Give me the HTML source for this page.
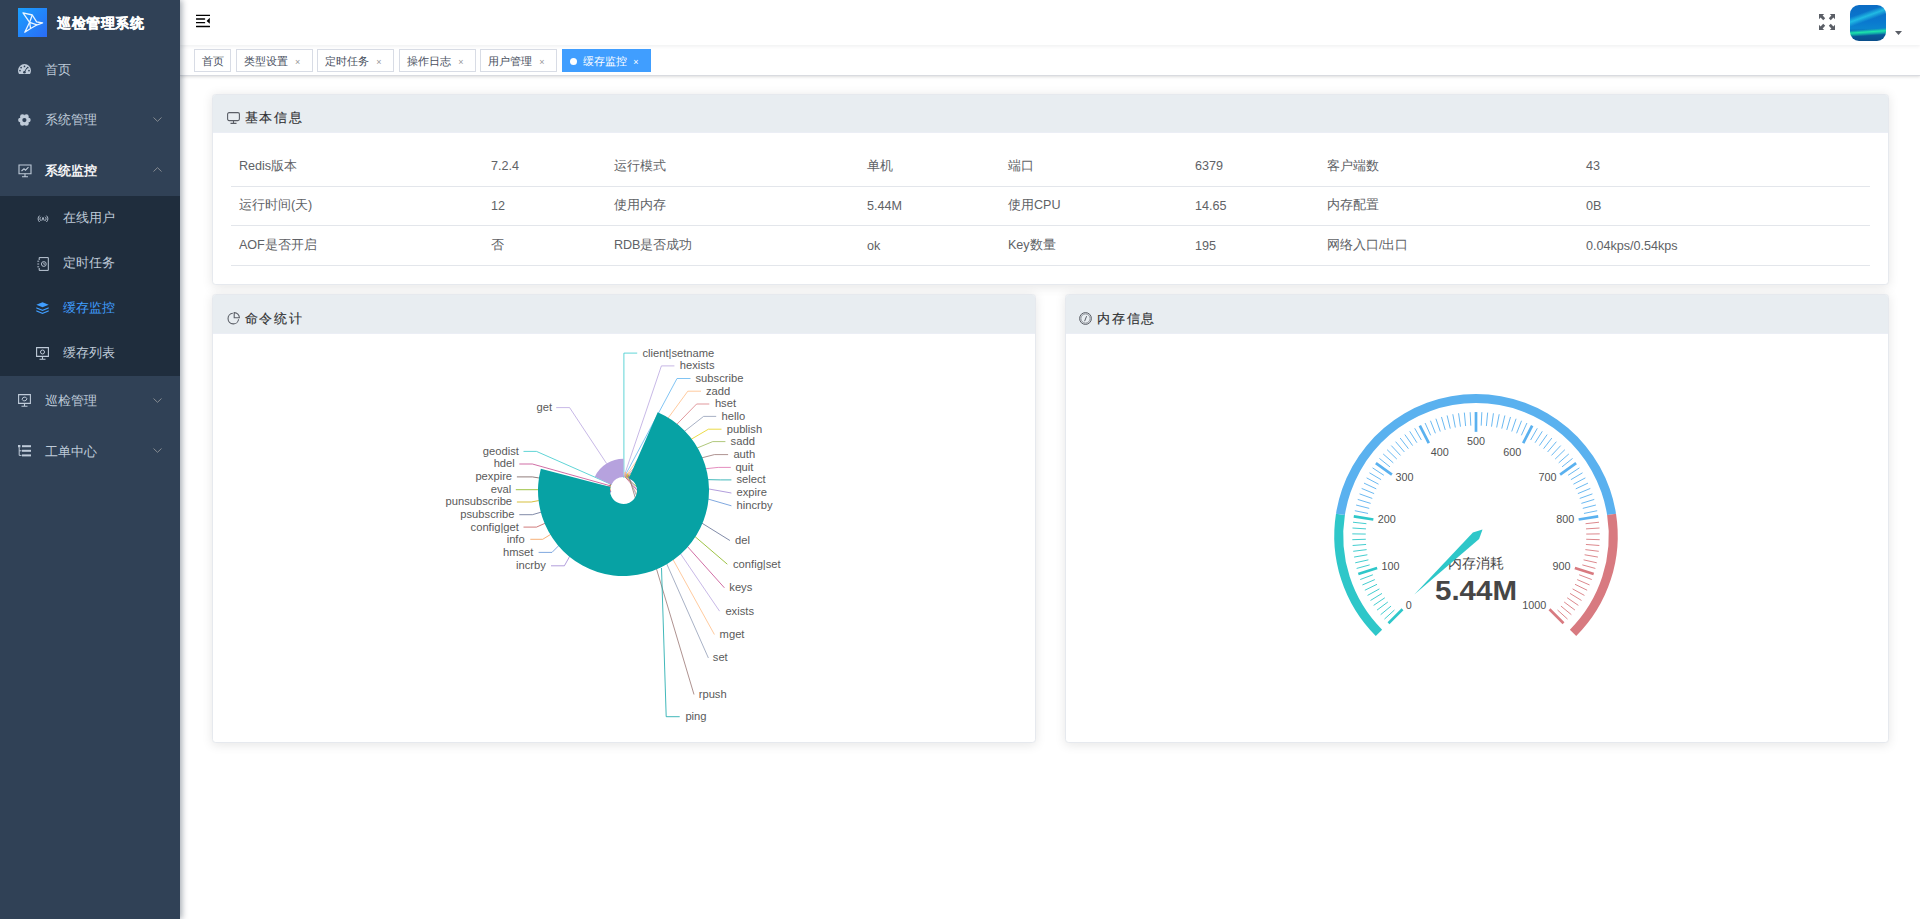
<!DOCTYPE html>
<html><head><meta charset="utf-8"><title>缓存监控</title>
<style>
*{box-sizing:border-box;margin:0;padding:0}
html,body{width:1920px;height:919px;overflow:hidden;background:#fff;font-family:"Liberation Sans",sans-serif;}
.abs{position:absolute}
#sidebar{position:absolute;left:0;top:0;width:180px;height:919px;background:#304156;box-shadow:2px 0 6px rgba(0,21,41,.35);z-index:5}
.logo{position:absolute;left:18px;top:8px;width:29px;height:29px}
.title{position:absolute;left:57.3px;top:12.9px;line-height:20px;font-size:13.9px;letter-spacing:0.5px;font-weight:bold;-webkit-text-stroke:0.35px #fff;color:#fff;white-space:nowrap}
.mi{position:absolute;left:0;width:180px;height:50.4px;line-height:50.4px;font-size:12.6px;color:#bfcbd9;white-space:nowrap}
.mi .t{position:absolute;left:45px;top:0}
.mi svg{position:absolute}
.sub{position:absolute;left:0;top:196.2px;width:180px;height:180px;background:#1f2d3d}
.si{position:absolute;left:0;width:180px;height:45px;line-height:45px;font-size:12.6px;color:#bfcbd9;white-space:nowrap}
.si .t{position:absolute;left:63px;top:0}
.si svg{position:absolute}
.chev{position:absolute;left:153px;width:9px;height:5px}
#navbar{position:absolute;left:180px;top:0;width:1740px;height:45px;background:#fff;box-shadow:0 1px 4px rgba(0,21,41,.08);z-index:2}
#tags{position:absolute;left:180px;top:45px;width:1740px;height:30.6px;background:#fff;border-bottom:1px solid #d9dbe0;box-shadow:0 1px 3px 0 rgba(0,0,0,.12),0 0 3px 0 rgba(0,0,0,.04);z-index:1}
.tag{position:absolute;top:4px;height:23px;line-height:22.5px;border:1px solid #d8dce5;color:#495060;background:#fff;font-size:10.8px;white-space:nowrap}
.tag .x{position:absolute;font-size:9px;color:#999;top:0.5px}
.tag.act{background:#409eff;border-color:#409eff;color:#fff}
.card{position:absolute;background:#fff;border:1px solid #e6e9ee;border-radius:3.6px;box-shadow:0 1.8px 10.8px 0 rgba(0,0,0,.1);overflow:hidden}
.card .hd{position:absolute;left:0;top:0;width:100%;height:38.3px;background:#e8edf1;border-bottom:1px solid #ebeef5}
.card .hd .t{position:absolute;left:31.5px;top:13.3px;line-height:20px;font-size:13.2px;letter-spacing:1.6px;color:#303133;-webkit-text-stroke:0.15px #303133;white-space:nowrap}
.card .hd svg{position:absolute}
table{position:absolute;border-collapse:collapse;table-layout:fixed}
td{height:39.6px;border-bottom:1px solid #e3e6eb;font-size:12.6px;color:#606266;padding:0 0 0 8px;white-space:nowrap;vertical-align:middle}
svg text{font-family:"Liberation Sans",sans-serif}
</style></head>
<body>
<div id="sidebar">
  <svg class="logo" viewBox="0 0 29 29">
    <defs><linearGradient id="lg" x1="0" y1="0" x2="1" y2="1"><stop offset="0" stop-color="#1aa0ff"/><stop offset="1" stop-color="#2a6bf5"/></linearGradient></defs>
    <rect width="29" height="29" fill="url(#lg)"/>
    <g fill="none" stroke="#eaf6ff" stroke-width="1.3" stroke-linejoin="round">
      <path d="M5 4.8L14.3 7L18.6 13.9L24.6 15L19.2 16.8L12.6 20.5L6.8 24.2L11.6 14.3Z"/>
      <path d="M14.3 7L11.6 14.3L19 16.8M11.6 14.3L12.6 20.5"/>
    </g>
  </svg>
  <div class="title">巡检管理系统</div>

  <div class="mi" style="top:45px"><svg style="left:18px;top:18.9px" width="13" height="10.6" viewBox="0 0 13 10.6"><defs><clipPath id="dc"><rect width="13" height="10.6"/></clipPath></defs><circle cx="6.5" cy="6.5" r="6.5" fill="#bfcbd9" clip-path="url(#dc)"/><g fill="#304156"><circle cx="3.1" cy="3.6" r="0.85"/><circle cx="6.5" cy="2.4" r="0.85"/><circle cx="9.7" cy="3.6" r="0.85"/><circle cx="2.0" cy="6.6" r="0.85"/><circle cx="11" cy="6.6" r="0.85"/><circle cx="6.4" cy="8.3" r="1.3"/></g><path d="M6.3 8.3L8.9 3.8" stroke="#304156" stroke-width="1"/></svg><span class="t">首页</span></div>
  <div class="mi" style="top:95.4px"><svg style="left:17.8px;top:18.5px" width="13" height="12.4" viewBox="0 0 13 12.4"><g fill="#bfcbd9"><circle cx="6.4" cy="6.1" r="4.6"/><circle cx="10.30" cy="6.10" r="2.4"/><circle cx="8.35" cy="9.48" r="2.4"/><circle cx="4.45" cy="9.48" r="2.4"/><circle cx="2.50" cy="6.10" r="2.4"/><circle cx="4.45" cy="2.72" r="2.4"/><circle cx="8.35" cy="2.72" r="2.4"/></g><circle cx="6.4" cy="6.1" r="2.1" fill="#304156"/></svg><span class="t">系统管理</span>
    <svg class="chev" style="top:22px" viewBox="0 0 9 5"><path d="M0.5 0.5L4.5 4.3L8.5 0.5" fill="none" stroke="#909399" stroke-width="0.9"/></svg></div>
  <div class="mi" style="top:145.8px;color:#f4f4f5"><svg style="left:17.5px;top:18px" width="14" height="14" viewBox="0 0 14 14"><path d="M1 1H13V9.8H1Z" fill="none" stroke="#bfcbd9" stroke-width="1.1"/><path d="M7 9.8V12.5M4 12.8H10" stroke="#bfcbd9" stroke-width="1.1"/><path d="M3.5 7L6 4.8L7.5 6.2L10.5 3.2" fill="none" stroke="#bfcbd9" stroke-width="1.1"/></svg><span class="t" style="font-weight:bold">系统监控</span>
    <svg class="chev" style="top:21.5px" viewBox="0 0 9 5"><path d="M0.5 4.5L4.5 0.7L8.5 4.5" fill="none" stroke="#909399" stroke-width="0.9"/></svg></div>

  <div class="sub">
    <div class="si" style="top:0"><svg style="left:36.5px;top:18.5px" width="12" height="7.6" viewBox="0 0 12 7.6"><g fill="none" stroke="#bfcbd9" stroke-width="0.9"><path d="M2.6 0.6A4.2 4.2 0 0 0 2.6 7M9.4 0.6A4.2 4.2 0 0 1 9.4 7M4 1.8A2.4 2.4 0 0 0 4 5.8M8 1.8A2.4 2.4 0 0 1 8 5.8"/><path d="M4.8 5.6L6 2.4L7.2 5.6"/></g></svg><span class="t">在线用户</span></div>
    <div class="si" style="top:45px"><svg style="left:36.8px;top:15.7px" width="12" height="14" viewBox="0 0 12 14"><path d="M2.2 0.6H11.3V13.4H2.2V11M2.2 3V0.6" fill="none" stroke="#bfcbd9" stroke-width="1"/><path d="M0.3 4.2H2.2M0.3 7H2.2M0.3 9.8H2.2" stroke="#bfcbd9" stroke-width="0.9"/><circle cx="6.8" cy="7" r="2.4" fill="none" stroke="#bfcbd9" stroke-width="0.9"/><path d="M6.8 5.6V7.2H8" fill="none" stroke="#bfcbd9" stroke-width="0.8"/></svg><span class="t">定时任务</span></div>
    <div class="si" style="top:90px;color:#409eff"><svg style="left:36px;top:16px" width="13" height="12" viewBox="0 0 13 12"><path d="M6.5 0.3L12.7 2.8L6.5 5.3L0.3 2.8Z" fill="#409eff"/><path d="M0.3 5.2L6.5 7.7L12.7 5.2V6.4L6.5 8.9L0.3 6.4Z" fill="#409eff"/><path d="M0.3 8.2L6.5 10.7L12.7 8.2V9.4L6.5 11.9L0.3 9.4Z" fill="#409eff"/></svg><span class="t">缓存监控</span></div>
    <div class="si" style="top:135px"><svg style="left:36px;top:16px" width="13" height="13" viewBox="0 0 13 13"><path d="M0.6 0.6H12.4V9.4H0.6Z" fill="none" stroke="#bfcbd9" stroke-width="1.1"/><path d="M6.5 9.4V11.8M3.5 12.3H9.5" stroke="#bfcbd9" stroke-width="1.1"/><circle cx="6.5" cy="5" r="2" fill="none" stroke="#bfcbd9" stroke-width="1"/></svg><span class="t">缓存列表</span></div>
  </div>

  <div class="mi" style="top:376.2px"><svg style="left:18px;top:17.5px" width="13" height="13" viewBox="0 0 13 13"><path d="M0.6 0.6H12.4V9.4H0.6Z" fill="none" stroke="#bfcbd9" stroke-width="1.1"/><path d="M6.5 9.4V11.8M3.5 12.3H9.5" stroke="#bfcbd9" stroke-width="1.1"/><path d="M4.2 5.5A2.4 2.4 0 0 1 8.8 4.5M8.8 4.5A2.4 2.4 0 0 1 4.2 5.5" fill="none" stroke="#bfcbd9" stroke-width="1"/></svg><span class="t">巡检管理</span>
    <svg class="chev" style="top:21.5px" viewBox="0 0 9 5"><path d="M0.5 0.5L4.5 4.3L8.5 0.5" fill="none" stroke="#909399" stroke-width="0.9"/></svg></div>
  <div class="mi" style="top:426.6px"><svg style="left:18px;top:18.5px" width="13" height="12" viewBox="0 0 13 12"><rect x="0" y="0" width="2.4" height="2.4" fill="#bfcbd9"/><rect x="4" y="0.2" width="9" height="2" fill="#bfcbd9"/><rect x="4" y="4.8" width="9" height="2" fill="#bfcbd9"/><rect x="4" y="9.4" width="9" height="2" fill="#bfcbd9"/><path d="M1.2 2.4V10.4H3.5M1.2 5.8H3.5" fill="none" stroke="#bfcbd9" stroke-width="1"/></svg><span class="t">工单中心</span>
    <svg class="chev" style="top:21.5px" viewBox="0 0 9 5"><path d="M0.5 0.5L4.5 4.3L8.5 0.5" fill="none" stroke="#909399" stroke-width="0.9"/></svg></div>
</div>

<div id="navbar">
  <svg class="abs" style="left:16px;top:13px" width="14" height="15" viewBox="0 0 14 15"><path d="M0.3 2.4H13.7M0.3 6H8.6M0.3 9.7H8.6M0.3 13.5H13.7" stroke="#000" stroke-width="1.3" stroke-linecap="round"/><path d="M13.8 4.8L10.6 7.9L13.8 10.8Z" fill="#000"/></svg>
  <svg class="abs" style="left:1639px;top:14px" width="16" height="16" viewBox="0 0 16 16" fill="#5a5e66"><path d="M0 0H5.2L3.6 1.6L6.2 4.2L4.2 6.2L1.6 3.6L0 5.2Z"/><path d="M16 0H10.8L12.4 1.6L9.8 4.2L11.8 6.2L14.4 3.6L16 5.2Z"/><path d="M0 16H5.2L3.6 14.4L6.2 11.8L4.2 9.8L1.6 12.4L0 10.8Z"/><path d="M16 16H10.8L12.4 14.4L9.8 11.8L11.8 9.8L14.4 12.4L16 10.8Z"/></svg>
  <div class="abs" style="left:1670px;top:4.7px;width:36px;height:36px;border-radius:9px;overflow:hidden;background:linear-gradient(176deg,rgba(0,0,0,0) 66%,rgba(30,235,170,.95) 73%,rgba(20,200,170,.7) 78%,rgba(10,80,140,.0) 83%),linear-gradient(160deg,rgba(0,0,0,0) 25%,rgba(40,210,235,.75) 35%,rgba(0,0,0,0) 45%),linear-gradient(180deg,#0b6cc4 0%,#0a78cf 45%,#0b84cf 65%,#0a5a9c 82%,#0a4e8a 100%)"></div>
  <svg class="abs" style="left:1715px;top:30.5px" width="7" height="4" viewBox="0 0 7 4"><path d="M0 0H7L3.5 4Z" fill="#5a5e66"/></svg>
</div>

<div id="tags">
  <div class="tag" style="left:14px;width:37px;padding-left:6.5px">首页</div>
  <div class="tag" style="left:56px;width:77px;padding-left:6.5px">类型设置<span class="x" style="left:58px">×</span></div>
  <div class="tag" style="left:137.2px;width:76.5px;padding-left:6.5px">定时任务<span class="x" style="left:58px">×</span></div>
  <div class="tag" style="left:219.3px;width:76.5px;padding-left:6.5px">操作日志<span class="x" style="left:58px">×</span></div>
  <div class="tag" style="left:300.3px;width:76.5px;padding-left:6.5px">用户管理<span class="x" style="left:58px">×</span></div>
  <div class="tag act" style="left:382.2px;width:88.6px;padding-left:20px"><span class="abs" style="left:7px;top:7.8px;width:7px;height:7px;border-radius:50%;background:#fff"></span>缓存监控<span class="x" style="left:70px;color:#fff">×</span></div>
</div>

<!-- basic info card -->
<div class="card" style="left:212.4px;top:94px;width:1676.5px;height:190.5px">
  <div class="hd"><svg style="left:14px;top:17px" width="13" height="12" viewBox="0 0 13 12"><rect x="0.6" y="0.6" width="11.8" height="8" rx="1.5" fill="none" stroke="#5a5e66" stroke-width="1.1"/><path d="M6.5 8.6V11.2M3.5 11.4H9.5" stroke="#5a5e66" stroke-width="1.1"/></svg><span class="t">基本信息</span></div>
  <table style="left:17.5px;top:51.6px;width:1639px">
    <colgroup><col style="width:252px"><col style="width:123px"><col style="width:253px"><col style="width:141px"><col style="width:187px"><col style="width:132px"><col style="width:259px"><col style="width:292px"></colgroup>
    <tr><td>Redis版本</td><td>7.2.4</td><td>运行模式</td><td>单机</td><td>端口</td><td>6379</td><td>客户端数</td><td>43</td></tr>
    <tr><td>运行时间(天)</td><td>12</td><td>使用内存</td><td>5.44M</td><td>使用CPU</td><td>14.65</td><td>内存配置</td><td>0B</td></tr>
    <tr><td>AOF是否开启</td><td>否</td><td>RDB是否成功</td><td>ok</td><td>Key数量</td><td>195</td><td>网络入口/出口</td><td>0.04kps/0.54kps</td></tr>
  </table>
</div>

<!-- command stats card -->
<div class="card" style="left:212.4px;top:294.4px;width:824px;height:449px">
  <div class="hd"><svg style="left:14px;top:16.8px" width="13" height="13" viewBox="0 0 13 13"><path d="M5.8 1.3A5.3 5.3 0 1 0 11.6 7.2" fill="none" stroke="#5a5e66" stroke-width="1.1"/><path d="M7.2 0.6V5.8H12.4A5.3 5.3 0 0 0 7.2 0.6Z" fill="none" stroke="#5a5e66" stroke-width="1.1"/></svg><span class="t">命令统计</span></div>
</div>

<!-- memory card -->
<div class="card" style="left:1064.9px;top:294.4px;width:824px;height:449px">
  <div class="hd"><svg style="left:13.5px;top:17px" width="13" height="13" viewBox="0 0 13 13"><circle cx="6.5" cy="6.5" r="5.9" fill="none" stroke="#5a5e66" stroke-width="1"/><circle cx="6.5" cy="6.5" r="4.6" fill="none" stroke="#5a5e66" stroke-width="0.6"/><path d="M5.6 9.2L7.6 4.2" stroke="#5a5e66" stroke-width="1"/></svg><span class="t">内存信息</span></div>
</div>

<svg class="abs" style="left:0;top:0;z-index:3;pointer-events:none" width="1920" height="919" viewBox="0 0 1920 919">
<g fill="none" stroke-width="0.85" stroke-opacity="0.9">
<polyline points="623.9,478 623.9,353.1 637.2,353.1" stroke="#2ec7c9"/>
<polyline points="623.8,477 661.4,365.9 674.4,365.9" stroke="#b6a2de"/>
<polyline points="624.3,477 677,378.5 690.5,378.5" stroke="#5ab1ef"/>
<polyline points="625,477 687.8,391.2 701,391.2" stroke="#ffb980"/>
<polyline points="625.5,477 696.6,404 709.3,404" stroke="#d87a80"/>
<polyline points="626,477 703.6,416.4 716.2,416.4" stroke="#8d98b3"/>
<polyline points="626.5,477 708.4,429.2 721.5,429.2" stroke="#e5cf0d"/>
<polyline points="627,477 712.7,441.6 725.4,441.6" stroke="#97b552"/>
<polyline points="627.5,477 714.4,454.6 728.1,454.6" stroke="#95706d"/>
<polyline points="628,477 718.2,467.4 730.8,467.4" stroke="#dc69aa"/>
<polyline points="628.5,478 720.5,479.9 731.4,479.9" stroke="#07a2a4"/>
<polyline points="641.8,477 731.4,493" stroke="#9a7fd1"/>
<polyline points="632.1,477 731.4,505.8" stroke="#588dd5"/>
<polyline points="627.62,477 729.9,540.5" stroke="#59678c"/>
<polyline points="625.4,477 727.3,564.2" stroke="#7eb00a"/>
<polyline points="625.2,477 724.4,587.8" stroke="#c14089"/>
<polyline points="628.31,477 719.6,611.2" stroke="#b6a2de"/>
<polyline points="627.45,477 714.4,634.5" stroke="#ffb980"/>
<polyline points="628.32,477 708.4,658" stroke="#8d98b3"/>
<polyline points="629.06,477 694,694.5" stroke="#95706d"/>
<polyline points="661.5,568 666.2,716.7 679.7,716.7" stroke="#07a2a4"/>
<polyline points="606.6,463.5 569.6,407.6 556.2,407.6" stroke="#b6a2de"/>
<polyline points="611.5,484.5 536.5,451.4 523.5,451.4" stroke="#2ec7c9"/>
<polyline points="611,486 532.4,464 519.3,464" stroke="#c14089"/>
<polyline points="610.5,487 538.6,477.9 532.4,476.9 516.9,476.9" stroke="#6f5553"/>
<polyline points="610.5,488 538.6,489.7 515.8,489.7" stroke="#7eb00a"/>
<polyline points="610.5,489 538.6,500.6 531.3,502 516.9,502" stroke="#c9ab00"/>
<polyline points="610.5,490 541.7,512 532.4,514.7 519.3,514.7" stroke="#59678c"/>
<polyline points="611,490 544.8,523.4 536.5,527.1 523.5,527.1" stroke="#c05050"/>
<polyline points="611,491 550,534.8 542.7,539.3 530.3,539.3" stroke="#f5994e"/>
<polyline points="611,491 558.2,546.2 552,552.4 538.6,552.4" stroke="#588dd5"/>
<polyline points="611,491 569.6,556.5 564.4,565.8 551,565.8" stroke="#9a7fd1"/>
</g>
<path d="M657.73 412.15A85.5 85.5 0 1 1 540.84 468.66L610.45 487.05A13.5 13.5 0 1 0 628.9 478.13Z" fill="#07a2a4"/>
<path d="M594.85 476.71A31.8 31.8 0 0 1 623.5 458.7L623.5 477A13.5 13.5 0 0 0 611.34 484.65Z" fill="#b6a2de"/>
<path d="M623.5 475.5A15 15 0 0 1 623.81 475.5L623.78 477A13.5 13.5 0 0 0 623.5 477Z" fill="#2ec7c9"/>
<path d="M623.81 475.5A15 15 0 0 1 624.13 475.51L624.07 477.01A13.5 13.5 0 0 0 623.78 477Z" fill="#b6a2de"/>
<path d="M624.15 475.01A15.5 15.5 0 0 1 624.47 475.03L624.35 477.03A13.5 13.5 0 0 0 624.07 477.01Z" fill="#5ab1ef"/>
<path d="M624.66 472.04A18.5 18.5 0 0 1 626.07 472.18L625.38 477.13A13.5 13.5 0 0 0 624.35 477.03Z" fill="#ffb980"/>
<path d="M625.87 473.67A17 17 0 0 1 626.74 473.81L626.08 477.25A13.5 13.5 0 0 0 625.38 477.13Z" fill="#d87a80"/>
<path d="M626.55 474.79A16 16 0 0 1 627.1 474.91L626.54 477.35A13.5 13.5 0 0 0 626.08 477.25Z" fill="#8d98b3"/>
<path d="M627.44 473.45A17.5 17.5 0 0 1 628.32 473.68L627.22 477.52A13.5 13.5 0 0 0 626.54 477.35Z" fill="#e5cf0d"/>
<path d="M628.05 474.64A16.5 16.5 0 0 1 628.6 474.81L627.67 477.66A13.5 13.5 0 0 0 627.22 477.52Z" fill="#97b552"/>
<path d="M628.44 475.28A16 16 0 0 1 628.97 475.46L628.12 477.81A13.5 13.5 0 0 0 627.67 477.66Z" fill="#95706d"/>
<path d="M628.97 475.46A16 16 0 0 1 629.49 475.67L628.56 477.98A13.5 13.5 0 0 0 628.12 477.81Z" fill="#dc69aa"/>
<path d="M629.31 476.13A15.5 15.5 0 0 1 629.71 476.3L628.9 478.13A13.5 13.5 0 0 0 628.56 477.98Z" fill="#07a2a4"/>
<path d="M609 486.67A15 15 0 0 1 609.08 486.37L610.52 486.78A13.5 13.5 0 0 0 610.45 487.05Z" fill="#9a7fd1"/>
<path d="M609.08 486.37A15 15 0 0 1 609.19 485.99L610.62 486.44A13.5 13.5 0 0 0 610.52 486.78Z" fill="#588dd5"/>
<path d="M608.72 485.84A15.5 15.5 0 0 1 608.84 485.45L610.74 486.1A13.5 13.5 0 0 0 610.62 486.44Z" fill="#f5994e"/>
<path d="M609.32 485.62A15 15 0 0 1 609.45 485.25L610.85 485.77A13.5 13.5 0 0 0 610.74 486.1Z" fill="#c05050"/>
<path d="M609.45 485.25A15 15 0 0 1 609.59 484.88L610.98 485.44A13.5 13.5 0 0 0 610.85 485.77Z" fill="#59678c"/>
<path d="M609.59 484.88A15 15 0 0 1 609.69 484.64L611.07 485.23A13.5 13.5 0 0 0 610.98 485.44Z" fill="#c9ab00"/>
<path d="M609.69 484.64A15 15 0 0 1 609.8 484.4L611.17 485.01A13.5 13.5 0 0 0 611.07 485.23Z" fill="#7eb00a"/>
<path d="M609.8 484.4A15 15 0 0 1 609.91 484.16L611.26 484.79A13.5 13.5 0 0 0 611.17 485.01Z" fill="#6f5553"/>
<path d="M609.91 484.16A15 15 0 0 1 609.98 484L611.34 484.65A13.5 13.5 0 0 0 611.26 484.79Z" fill="#c14089"/>
<circle cx="623.5" cy="490.5" r="13.5" fill="#fff" opacity="0"/>
<g font-size="11.2" fill="#5a5a5a" dominant-baseline="central">
<text x="642.4" y="352.5">client|setname</text>
<text x="679.7" y="365.3">hexists</text>
<text x="695.5" y="377.9">subscribe</text>
<text x="706" y="390.6">zadd</text>
<text x="714.9" y="403.4">hset</text>
<text x="721.5" y="415.8">hello</text>
<text x="726.7" y="428.6">publish</text>
<text x="730.6" y="441">sadd</text>
<text x="733.4" y="454">auth</text>
<text x="735.4" y="466.8">quit</text>
<text x="736.5" y="479.3">select</text>
<text x="736.5" y="492.4">expire</text>
<text x="736.5" y="505.2">hincrby</text>
<text x="735" y="539.9">del</text>
<text x="733" y="563.6">config|set</text>
<text x="729.3" y="587.2">keys</text>
<text x="725.4" y="610.6">exists</text>
<text x="719.6" y="633.9">mget</text>
<text x="712.8" y="657.4">set</text>
<text x="698.7" y="693.9">rpush</text>
<text x="685.4" y="716.1">ping</text>
<text x="552" y="407" text-anchor="end">get</text>
<text x="518.9" y="450.8" text-anchor="end">geodist</text>
<text x="514.8" y="463.4" text-anchor="end">hdel</text>
<text x="512.1" y="476.3" text-anchor="end">pexpire</text>
<text x="511.3" y="489.1" text-anchor="end">eval</text>
<text x="512.1" y="501.4" text-anchor="end">punsubscribe</text>
<text x="514.4" y="514.1" text-anchor="end">psubscribe</text>
<text x="518.9" y="526.5" text-anchor="end">config|get</text>
<text x="524.7" y="538.7" text-anchor="end">info</text>
<text x="533.4" y="551.8" text-anchor="end">hmset</text>
<text x="545.8" y="565.2" text-anchor="end">incrby</text>
</g>
<g dominant-baseline="central">
<path d="M1375.77 636.03A141.75 141.75 0 0 1 1336 513.63L1344.88 515.03A132.75 132.75 0 0 0 1382.13 629.67Z" fill="#2ec7c9"/>
<path d="M1336 513.63A141.75 141.75 0 0 1 1616 513.63L1607.12 515.03A132.75 132.75 0 0 0 1344.88 515.03Z" fill="#5ab1ef"/>
<path d="M1616 513.63A141.75 141.75 0 0 1 1576.23 636.03L1569.87 629.67A132.75 132.75 0 0 0 1607.12 515.03Z" fill="#d87a80"/>
<line x1="1384.47" y1="619.09" x2="1394.46" y2="610" stroke="#2ec7c9" stroke-width="0.9"/>
<line x1="1380.65" y1="614.68" x2="1391.05" y2="606.08" stroke="#2ec7c9" stroke-width="0.9"/>
<line x1="1377.04" y1="610.1" x2="1387.83" y2="602" stroke="#2ec7c9" stroke-width="0.9"/>
<line x1="1373.65" y1="605.36" x2="1384.81" y2="597.77" stroke="#2ec7c9" stroke-width="0.9"/>
<line x1="1370.49" y1="600.46" x2="1382" y2="593.41" stroke="#2ec7c9" stroke-width="0.9"/>
<line x1="1367.56" y1="595.42" x2="1379.39" y2="588.91" stroke="#2ec7c9" stroke-width="0.9"/>
<line x1="1364.87" y1="590.24" x2="1376.99" y2="584.3" stroke="#2ec7c9" stroke-width="0.9"/>
<line x1="1362.43" y1="584.95" x2="1374.82" y2="579.59" stroke="#2ec7c9" stroke-width="0.9"/>
<line x1="1360.24" y1="579.54" x2="1372.87" y2="574.77" stroke="#2ec7c9" stroke-width="0.9"/>
<line x1="1356.64" y1="568.45" x2="1369.66" y2="564.89" stroke="#2ec7c9" stroke-width="0.9"/>
<line x1="1355.23" y1="562.8" x2="1368.41" y2="559.85" stroke="#2ec7c9" stroke-width="0.9"/>
<line x1="1354.09" y1="557.08" x2="1367.39" y2="554.76" stroke="#2ec7c9" stroke-width="0.9"/>
<line x1="1353.23" y1="551.31" x2="1366.62" y2="549.62" stroke="#2ec7c9" stroke-width="0.9"/>
<line x1="1352.63" y1="545.51" x2="1366.09" y2="544.45" stroke="#2ec7c9" stroke-width="0.9"/>
<line x1="1352.31" y1="539.69" x2="1365.8" y2="539.26" stroke="#2ec7c9" stroke-width="0.9"/>
<line x1="1352.27" y1="533.86" x2="1365.76" y2="534.07" stroke="#2ec7c9" stroke-width="0.9"/>
<line x1="1352.49" y1="528.03" x2="1365.97" y2="528.88" stroke="#2ec7c9" stroke-width="0.9"/>
<line x1="1353" y1="522.22" x2="1366.42" y2="523.7" stroke="#2ec7c9" stroke-width="0.9"/>
<line x1="1354.82" y1="510.71" x2="1368.04" y2="513.44" stroke="#5ab1ef" stroke-width="0.9"/>
<line x1="1356.14" y1="505.02" x2="1369.21" y2="508.38" stroke="#5ab1ef" stroke-width="0.9"/>
<line x1="1357.72" y1="499.41" x2="1370.62" y2="503.38" stroke="#5ab1ef" stroke-width="0.9"/>
<line x1="1359.57" y1="493.88" x2="1372.27" y2="498.45" stroke="#5ab1ef" stroke-width="0.9"/>
<line x1="1361.67" y1="488.44" x2="1374.14" y2="493.61" stroke="#5ab1ef" stroke-width="0.9"/>
<line x1="1364.03" y1="483.11" x2="1376.24" y2="488.86" stroke="#5ab1ef" stroke-width="0.9"/>
<line x1="1366.63" y1="477.89" x2="1378.56" y2="484.21" stroke="#5ab1ef" stroke-width="0.9"/>
<line x1="1369.48" y1="472.81" x2="1381.1" y2="479.68" stroke="#5ab1ef" stroke-width="0.9"/>
<line x1="1372.57" y1="467.86" x2="1383.85" y2="475.27" stroke="#5ab1ef" stroke-width="0.9"/>
<line x1="1379.42" y1="458.43" x2="1389.96" y2="466.87" stroke="#5ab1ef" stroke-width="0.9"/>
<line x1="1383.17" y1="453.96" x2="1393.3" y2="462.89" stroke="#5ab1ef" stroke-width="0.9"/>
<line x1="1387.13" y1="449.68" x2="1396.83" y2="459.08" stroke="#5ab1ef" stroke-width="0.9"/>
<line x1="1391.29" y1="445.59" x2="1400.53" y2="455.43" stroke="#5ab1ef" stroke-width="0.9"/>
<line x1="1395.63" y1="441.7" x2="1404.4" y2="451.97" stroke="#5ab1ef" stroke-width="0.9"/>
<line x1="1400.15" y1="438.02" x2="1408.43" y2="448.69" stroke="#5ab1ef" stroke-width="0.9"/>
<line x1="1404.84" y1="434.55" x2="1412.61" y2="445.6" stroke="#5ab1ef" stroke-width="0.9"/>
<line x1="1409.69" y1="431.31" x2="1416.93" y2="442.71" stroke="#5ab1ef" stroke-width="0.9"/>
<line x1="1414.69" y1="428.31" x2="1421.38" y2="440.03" stroke="#5ab1ef" stroke-width="0.9"/>
<line x1="1425.08" y1="423.01" x2="1430.63" y2="435.32" stroke="#5ab1ef" stroke-width="0.9"/>
<line x1="1430.44" y1="420.74" x2="1435.41" y2="433.29" stroke="#5ab1ef" stroke-width="0.9"/>
<line x1="1435.92" y1="418.72" x2="1440.29" y2="431.49" stroke="#5ab1ef" stroke-width="0.9"/>
<line x1="1441.47" y1="416.96" x2="1445.24" y2="429.93" stroke="#5ab1ef" stroke-width="0.9"/>
<line x1="1447.11" y1="415.47" x2="1450.26" y2="428.6" stroke="#5ab1ef" stroke-width="0.9"/>
<line x1="1452.81" y1="414.24" x2="1455.34" y2="427.5" stroke="#5ab1ef" stroke-width="0.9"/>
<line x1="1458.56" y1="413.28" x2="1460.47" y2="426.65" stroke="#5ab1ef" stroke-width="0.9"/>
<line x1="1464.35" y1="412.6" x2="1465.62" y2="426.04" stroke="#5ab1ef" stroke-width="0.9"/>
<line x1="1470.17" y1="412.19" x2="1470.81" y2="425.67" stroke="#5ab1ef" stroke-width="0.9"/>
<line x1="1481.83" y1="412.19" x2="1481.19" y2="425.67" stroke="#5ab1ef" stroke-width="0.9"/>
<line x1="1487.65" y1="412.6" x2="1486.38" y2="426.04" stroke="#5ab1ef" stroke-width="0.9"/>
<line x1="1493.44" y1="413.28" x2="1491.53" y2="426.65" stroke="#5ab1ef" stroke-width="0.9"/>
<line x1="1499.19" y1="414.24" x2="1496.66" y2="427.5" stroke="#5ab1ef" stroke-width="0.9"/>
<line x1="1504.89" y1="415.47" x2="1501.74" y2="428.6" stroke="#5ab1ef" stroke-width="0.9"/>
<line x1="1510.53" y1="416.96" x2="1506.76" y2="429.93" stroke="#5ab1ef" stroke-width="0.9"/>
<line x1="1516.08" y1="418.72" x2="1511.71" y2="431.49" stroke="#5ab1ef" stroke-width="0.9"/>
<line x1="1521.56" y1="420.74" x2="1516.59" y2="433.29" stroke="#5ab1ef" stroke-width="0.9"/>
<line x1="1526.92" y1="423.01" x2="1521.37" y2="435.32" stroke="#5ab1ef" stroke-width="0.9"/>
<line x1="1537.31" y1="428.31" x2="1530.62" y2="440.03" stroke="#5ab1ef" stroke-width="0.9"/>
<line x1="1542.31" y1="431.31" x2="1535.07" y2="442.71" stroke="#5ab1ef" stroke-width="0.9"/>
<line x1="1547.16" y1="434.55" x2="1539.39" y2="445.6" stroke="#5ab1ef" stroke-width="0.9"/>
<line x1="1551.85" y1="438.02" x2="1543.57" y2="448.69" stroke="#5ab1ef" stroke-width="0.9"/>
<line x1="1556.37" y1="441.7" x2="1547.6" y2="451.97" stroke="#5ab1ef" stroke-width="0.9"/>
<line x1="1560.71" y1="445.59" x2="1551.47" y2="455.43" stroke="#5ab1ef" stroke-width="0.9"/>
<line x1="1564.87" y1="449.68" x2="1555.17" y2="459.08" stroke="#5ab1ef" stroke-width="0.9"/>
<line x1="1568.83" y1="453.96" x2="1558.7" y2="462.89" stroke="#5ab1ef" stroke-width="0.9"/>
<line x1="1572.58" y1="458.43" x2="1562.04" y2="466.87" stroke="#5ab1ef" stroke-width="0.9"/>
<line x1="1579.43" y1="467.86" x2="1568.15" y2="475.27" stroke="#5ab1ef" stroke-width="0.9"/>
<line x1="1582.52" y1="472.81" x2="1570.9" y2="479.68" stroke="#5ab1ef" stroke-width="0.9"/>
<line x1="1585.37" y1="477.89" x2="1573.44" y2="484.21" stroke="#5ab1ef" stroke-width="0.9"/>
<line x1="1587.97" y1="483.11" x2="1575.76" y2="488.86" stroke="#5ab1ef" stroke-width="0.9"/>
<line x1="1590.33" y1="488.44" x2="1577.86" y2="493.61" stroke="#5ab1ef" stroke-width="0.9"/>
<line x1="1592.43" y1="493.88" x2="1579.73" y2="498.45" stroke="#5ab1ef" stroke-width="0.9"/>
<line x1="1594.28" y1="499.41" x2="1581.38" y2="503.38" stroke="#5ab1ef" stroke-width="0.9"/>
<line x1="1595.86" y1="505.02" x2="1582.79" y2="508.38" stroke="#5ab1ef" stroke-width="0.9"/>
<line x1="1597.18" y1="510.71" x2="1583.96" y2="513.44" stroke="#5ab1ef" stroke-width="0.9"/>
<line x1="1599" y1="522.22" x2="1585.58" y2="523.7" stroke="#d87a80" stroke-width="0.9"/>
<line x1="1599.51" y1="528.03" x2="1586.03" y2="528.88" stroke="#d87a80" stroke-width="0.9"/>
<line x1="1599.73" y1="533.86" x2="1586.24" y2="534.07" stroke="#d87a80" stroke-width="0.9"/>
<line x1="1599.69" y1="539.69" x2="1586.2" y2="539.26" stroke="#d87a80" stroke-width="0.9"/>
<line x1="1599.37" y1="545.51" x2="1585.91" y2="544.45" stroke="#d87a80" stroke-width="0.9"/>
<line x1="1598.77" y1="551.31" x2="1585.38" y2="549.62" stroke="#d87a80" stroke-width="0.9"/>
<line x1="1597.91" y1="557.08" x2="1584.61" y2="554.76" stroke="#d87a80" stroke-width="0.9"/>
<line x1="1596.77" y1="562.8" x2="1583.59" y2="559.85" stroke="#d87a80" stroke-width="0.9"/>
<line x1="1595.36" y1="568.45" x2="1582.34" y2="564.89" stroke="#d87a80" stroke-width="0.9"/>
<line x1="1591.76" y1="579.54" x2="1579.13" y2="574.77" stroke="#d87a80" stroke-width="0.9"/>
<line x1="1589.57" y1="584.95" x2="1577.18" y2="579.59" stroke="#d87a80" stroke-width="0.9"/>
<line x1="1587.13" y1="590.24" x2="1575.01" y2="584.3" stroke="#d87a80" stroke-width="0.9"/>
<line x1="1584.44" y1="595.42" x2="1572.61" y2="588.91" stroke="#d87a80" stroke-width="0.9"/>
<line x1="1581.51" y1="600.46" x2="1570" y2="593.41" stroke="#d87a80" stroke-width="0.9"/>
<line x1="1578.35" y1="605.36" x2="1567.19" y2="597.77" stroke="#d87a80" stroke-width="0.9"/>
<line x1="1574.96" y1="610.1" x2="1564.17" y2="602" stroke="#d87a80" stroke-width="0.9"/>
<line x1="1571.35" y1="614.68" x2="1560.95" y2="606.08" stroke="#d87a80" stroke-width="0.9"/>
<line x1="1567.53" y1="619.09" x2="1557.54" y2="610" stroke="#d87a80" stroke-width="0.9"/>
<line x1="1388.5" y1="623.3" x2="1402.5" y2="609.3" stroke="#2ec7c9" stroke-width="2.7"/>
<line x1="1358.31" y1="574.04" x2="1377.14" y2="567.92" stroke="#2ec7c9" stroke-width="2.7"/>
<line x1="1353.77" y1="516.44" x2="1373.33" y2="519.54" stroke="#2ec7c9" stroke-width="2.7"/>
<line x1="1375.88" y1="463.06" x2="1391.9" y2="474.7" stroke="#5ab1ef" stroke-width="2.7"/>
<line x1="1419.82" y1="425.54" x2="1428.81" y2="443.18" stroke="#5ab1ef" stroke-width="2.7"/>
<line x1="1476" y1="412.05" x2="1476" y2="431.85" stroke="#5ab1ef" stroke-width="2.7"/>
<line x1="1532.18" y1="425.54" x2="1523.19" y2="443.18" stroke="#5ab1ef" stroke-width="2.7"/>
<line x1="1576.12" y1="463.06" x2="1560.1" y2="474.7" stroke="#5ab1ef" stroke-width="2.7"/>
<line x1="1598.23" y1="516.44" x2="1578.67" y2="519.54" stroke="#5ab1ef" stroke-width="2.7"/>
<line x1="1593.69" y1="574.04" x2="1574.86" y2="567.92" stroke="#d87a80" stroke-width="2.7"/>
<line x1="1563.5" y1="623.3" x2="1549.5" y2="609.3" stroke="#d87a80" stroke-width="2.7"/>
</g>
<g font-size="10.8" fill="#505050" dominant-baseline="central">
<text x="1405.68" y="605.32" text-anchor="start">0</text>
<text x="1381.42" y="565.73" text-anchor="start">100</text>
<text x="1377.77" y="519.44" text-anchor="start">200</text>
<text x="1395.54" y="476.54" text-anchor="start">300</text>
<text x="1430.85" y="451.79" text-anchor="start">400</text>
<text x="1476" y="440.95" text-anchor="middle">500</text>
<text x="1521.15" y="451.79" text-anchor="end">600</text>
<text x="1556.46" y="476.54" text-anchor="end">700</text>
<text x="1574.23" y="519.44" text-anchor="end">800</text>
<text x="1570.58" y="565.73" text-anchor="end">900</text>
<text x="1546.32" y="605.32" text-anchor="end">1000</text>
</g>
<text x="1476" y="563.15" font-size="14.4" fill="#464646" text-anchor="middle" dominant-baseline="central">内存消耗</text>
<path d="M1482.52 529.6L1472.9 532.54L1414.34 594.38L1479.1 539.06Z" fill="#2ec7c9"/>
<text x="1476" y="589.9" font-size="28.5" font-weight="bold" fill="#464646" text-anchor="middle" dominant-baseline="central" textLength="82" lengthAdjust="spacingAndGlyphs">5.44M</text>
</svg>
</body></html>
